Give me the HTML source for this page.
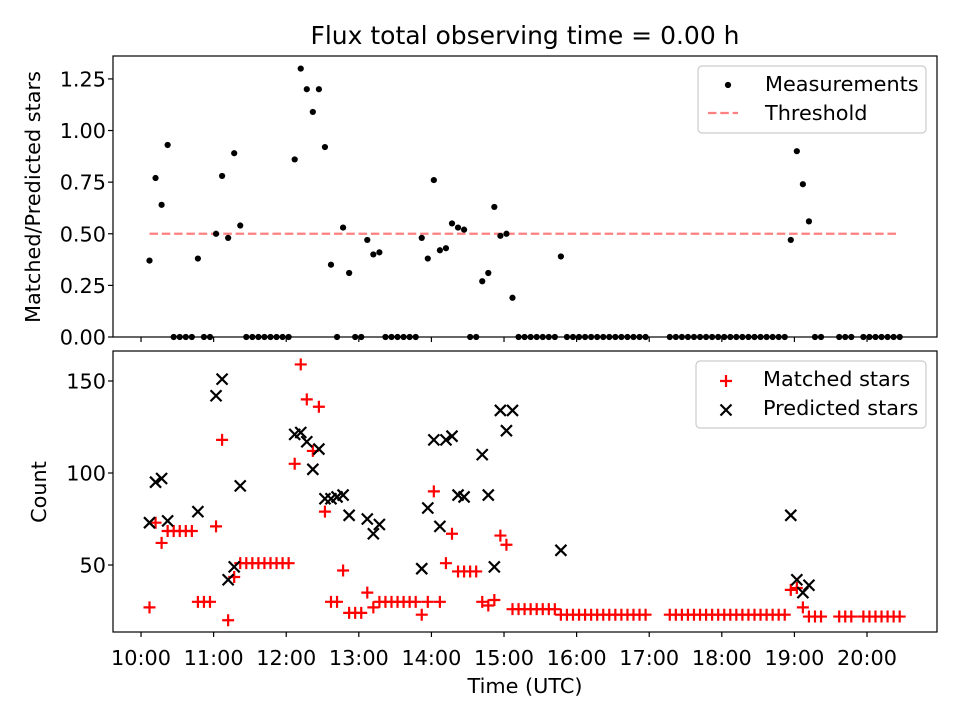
<!DOCTYPE html>
<html><head><meta charset="utf-8"><style>
body{margin:0;background:#fff}
svg text{font-family:"DejaVu Sans","Liberation Sans",sans-serif;fill:#000}
</style></head><body>
<svg id="chart" width="960" height="720" xmlns="http://www.w3.org/2000/svg">
<rect width="960" height="720" fill="#fff"/>
<text x="525" y="44" font-size="25" text-anchor="middle">Flux total observing time = 0.00 h</text>
<g id="top"></g><g id="bot"></g>
<text transform="translate(40,197) rotate(-90)" font-size="20.8" text-anchor="middle">Matched/Predicted stars</text>
<text transform="translate(46,492) rotate(-90)" font-size="20.8" text-anchor="middle">Count</text>
<text x="525" y="693" font-size="20.8" text-anchor="middle">Time (UTC)</text>
</svg>
<script>
// sample index (5-minute steps starting 10:07 UTC)
const sampleIdx=[0,1,2,3,4,5,6,7,8,9,
10,11,12,13,14,15,16,17,18,19,
20,21,22,23,24,25,26,27,28,29,
30,31,32,33,34,35,36,37,38,39,
40,41,42,43,44,45,46,47,48,49,
50,51,52,53,54,55,56,57,58,59,
60,61,62,63,64,65,66,67,68,69,
70,71,72,73,74,75,76,77,78,79,
80,81,82,86,87,88,89,
90,91,92,93,94,95,96,97,98,99,
100,101,102,103,104,105,106,107,108,109,
110,111,114,115,116,118,119,
120,121,122,123,124];
const ratio=[.37,.77,.64,.93,0,0,0,0,.38,0,
0,.50,.78,.48,.89,.54,0,0,0,0,
0,0,0,0,.86,1.30,1.20,1.09,1.20,.92,
.35,0,.53,.31,0,0,.47,.40,.41,0,
0,0,0,0,0,.48,.38,.76,.42,.43,
.55,.53,.52,0,0,.27,.31,.63,.49,.50,
.19,0,0,0,0,0,0,0,.39,0,
0,0,0,0,0,0,0,0,0,0,
0,0,0,0,0,0,0,
0,0,0,0,0,0,0,0,0,0,
0,0,0,0,0,0,.47,.90,.74,.56,
0,0,0,0,0,0,0,
0,0,0,0,0];
const matched=[27,73,62,68.5,68.5,68.5,68.5,68.5,30,30,
30,71,118,20,43.5,51,51,51,51,51,
51,51,51,51,105,159,140,112,136,79,
30,30,47,24,24,24,35,27,30,30,
30,30,30,30,30,23,30,90,30,51,
67,46.5,46.5,46.5,46.5,30,28,31,66,61,
26,26,26,26,26,26,26,26,23,23,
23,23,23,23,23,23,23,23,23,23,
23,23,23,23,23,23,23,
23,23,23,23,23,23,23,23,23,23,
23,23,23,23,23,23,36.5,37.5,27,22,
22,22,22,22,22,22,22,
22,22,22,22,22];
const predicted=[73,95,97,74,null,null,null,null,79,null,
null,142,151,42,49,93,null,null,null,null,
null,null,null,null,121,122,117,102,113,86,
86,87,88,77,null,null,75,67,72,null,
null,null,null,null,null,48,81,118,71,118,
120,88,87,null,null,110,88,49,134,123,
134,null,null,null,null,null,null,null,58,null,
null,null,null,null,null,null,null,null,null,null,
null,null,null,null,null,null,null,
null,null,null,null,null,null,null,null,null,null,
null,null,null,null,null,null,77,42,35,39,
null,null,null,null,null,null,null,
null,null,null,null,null];
const threshold=0.5;
const xTickLabels=["10:00","11:00","12:00","13:00","14:00","15:00","16:00","17:00","18:00","19:00","20:00"];
const topTicks=[0,0.25,0.5,0.75,1.0,1.25];
const botTicks=[50,100,150];

const NS="http://www.w3.org/2000/svg";
const L=113,R=937;
const X0=9.614,X1=20.964;
const tOf=k=>10+(7+5*k)/60;
const xs=t=>L+(t-X0)/(X1-X0)*(R-L);
const yTop=v=>337-(v-0)/(1.361)*(337-56);
const yBot=v=>632-(v-13.6)/(166.3-13.6)*(632-351);
function mk(tag,attrs,parent){const e=document.createElementNS(NS,tag);for(const k in attrs)e.setAttribute(k,attrs[k]);parent.appendChild(e);return e;}
const gT=document.getElementById('top'),gB=document.getElementById('bot');

const th=mk('line',{x1:xs(tOf(sampleIdx[0])),x2:xs(tOf(sampleIdx[sampleIdx.length-1])),y1:yTop(threshold),y2:yTop(threshold),stroke:'#ff8080','stroke-width':2.2,'stroke-dasharray':'8.5,3.8'},gT);


sampleIdx.forEach((k,i)=>{
  const c=mk('circle',{cx:xs(tOf(k)),cy:yTop(ratio[i]),r:3.1,fill:'#000'},gT);
  
  
});
sampleIdx.forEach((k,i)=>{
  const x=xs(tOf(k)),y=yBot(matched[i]);
  const p=mk('path',{d:`M${x-6} ${y}H${x+6}M${x} ${y-6}V${y+6}`,stroke:'#ff0000','stroke-width':2.2},gB);
  
  
});
sampleIdx.forEach((k,i)=>{
  if(predicted[i]==null)return;
  const x=xs(tOf(k)),y=yBot(predicted[i]);
  const p=mk('path',{d:`M${x-5.5} ${y-5.5}L${x+5.5} ${y+5.5}M${x-5.5} ${y+5.5}L${x+5.5} ${y-5.5}`,stroke:'#000','stroke-width':2.2},gB);
  
  
});
[[gT,56,337,'top-axes-frame'],[gB,351,632,'bottom-axes-frame']].forEach(([g,t,b,n])=>{
  const r=mk('rect',{x:L,y:t,width:R-L,height:b-t,fill:'none',stroke:'#000','stroke-width':1.2},g);
  
  
});
xTickLabels.forEach((lab,i)=>{
  const x=xs(10+i);
  mk('line',{x1:x,x2:x,y1:337,y2:342,stroke:'#000','stroke-width':1.2},gT);
  mk('line',{x1:x,x2:x,y1:632,y2:637,stroke:'#000','stroke-width':1.2},gB);
  const t=mk('text',{x:x,y:665,'font-size':20.8,'text-anchor':'middle'},gB);t.textContent=lab;
  
  
});
topTicks.forEach(v=>{
  const y=yTop(v);
  mk('line',{x1:L-5,x2:L,y1:y,y2:y,stroke:'#000','stroke-width':1.2},gT);
  const t=mk('text',{x:L-7,y:y+7.5,'font-size':20.8,'text-anchor':'end'},gT);t.textContent=v.toFixed(2);
  
  
});
botTicks.forEach(v=>{
  const y=yBot(v);
  mk('line',{x1:L-5,x2:L,y1:y,y2:y,stroke:'#000','stroke-width':1.2},gB);
  const t=mk('text',{x:L-7,y:y+7.5,'font-size':20.8,'text-anchor':'end'},gB);t.textContent=v;
  
  
});
function legend(g,x,y,w,name,items){
  const lg=mk('g',{},g);
  
  
  mk('rect',{x:x,y:y,width:w,height:67,rx:4,fill:'#fff','fill-opacity':0.8,stroke:'#ccc','stroke-width':1.2},lg);
  items.forEach((it,i)=>{
    const cy=y+18+i*29;const mx=x+30;
    if(it[0]==='dot')mk('circle',{cx:mx,cy:cy+1,r:3.1,fill:'#000'},lg);
    if(it[0]==='dash')mk('line',{x1:x+10,x2:x+40,y1:cy,y2:cy,stroke:'#ff8080','stroke-width':2.2,'stroke-dasharray':'8.5,3.8'},lg);
    if(it[0]==='plus')mk('path',{d:`M${mx-6} ${cy+2}H${mx+6}M${mx} ${cy-4}V${cy+8}`,stroke:'#f00','stroke-width':2.2},lg);
    if(it[0]==='x')mk('path',{d:`M${mx-5.5} ${cy-3.5}L${mx+5.5} ${cy+7.5}M${mx-5.5} ${cy+7.5}L${mx+5.5} ${cy-3.5}`,stroke:'#000','stroke-width':2.2},lg);
    const t=mk('text',{x:x+67,y:cy+7,'font-size':20.8},lg);t.textContent=it[1];
    
    
  });
}
legend(gT,698,66,228,'top-legend',[['dot','Measurements'],['dash','Threshold']]);
legend(gB,696,361,230,'bottom-legend',[['plus','Matched stars'],['x','Predicted stars']]);
</script>
</body></html>
